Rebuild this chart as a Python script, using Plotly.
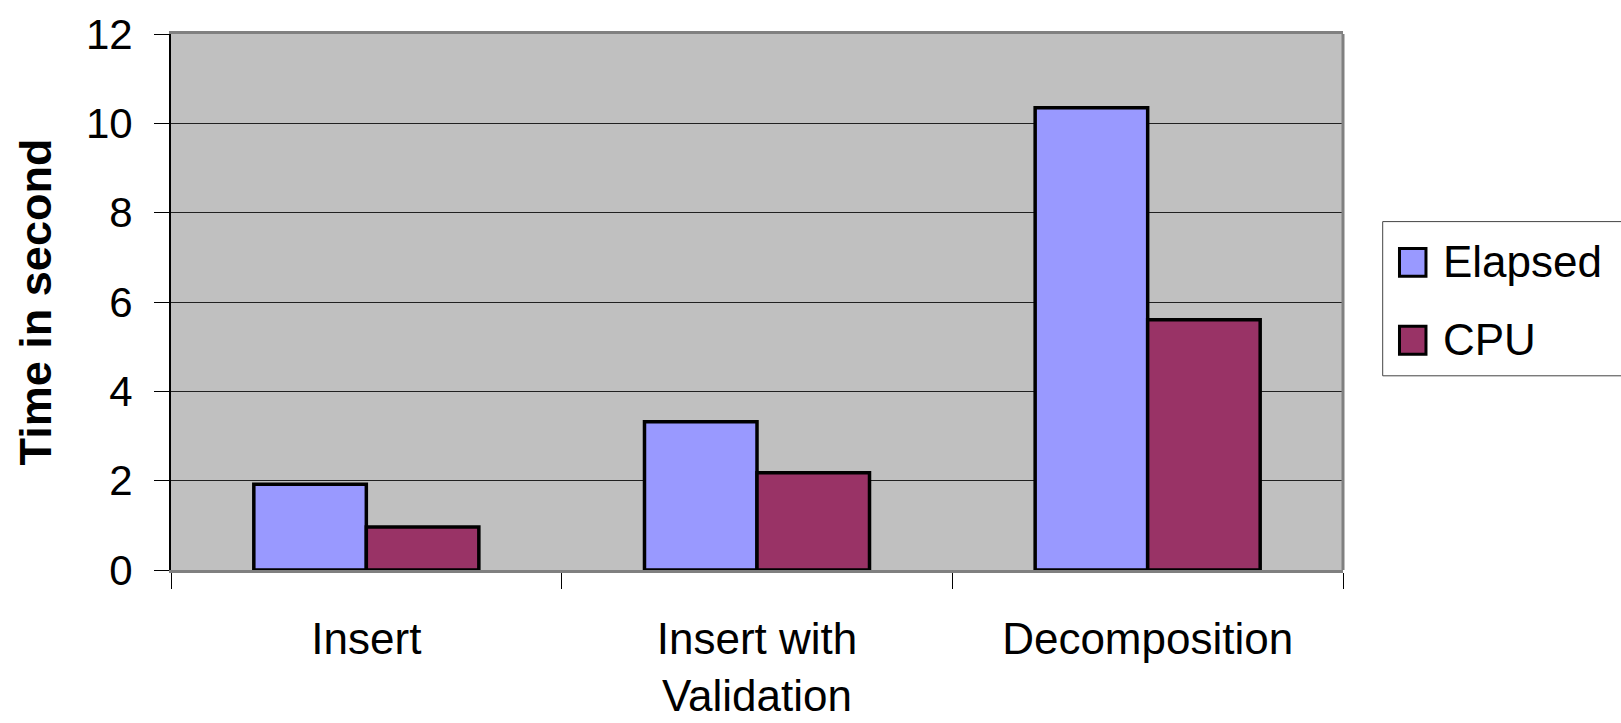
import plotly.graph_objects as go

categories = ["Insert", "Insert with<br>Validation", "Decomposition"]
elapsed = [1.92, 3.32, 10.35]
cpu = [0.96, 2.18, 5.60]
series_names = ["Elapsed", "CPU"]
series_colors = ["#9999FF", "#993366"]
y_ticks = [0, 2, 4, 6, 8, 10, 12]

W, H = 1621, 723
L, R, T, B = 170.7, 1343.0, 34.0, 570.3

FONT = "Liberation Sans, Arial, sans-serif"

fig = go.Figure()
for name, vals, col in zip(series_names, [elapsed, cpu], series_colors):
    fig.add_trace(go.Bar(
        x=categories, y=vals, name=name,
        marker=dict(color=col, line=dict(color="black", width=3.5)),
        showlegend=False,
    ))

def px2paper(px, py):
    return (px - L) / (R - L), (B - py) / (B - T)

shapes = []
annotations = []
# right border of plot area (gray)
shapes.append(dict(type="line", xref="paper", yref="paper", x0=1, x1=1, y0=0, y1=1,
                   line=dict(color="#808080", width=3), layer="above"))
# legend box
bx0, by0 = px2paper(1382.7, 221.7)
bx1, by1 = px2paper(1630, 376.0)
shapes.append(dict(type="rect", xref="paper", yref="paper", x0=bx0, x1=bx1, y0=by1, y1=by0,
                   line=dict(color="#444444", width=1), fillcolor="white", layer="above"))
item_tops = [248.5, 326.5]
for name, col, top in zip(series_names, series_colors, item_tops):
    sx0, sy0 = px2paper(1399.5, top)
    sx1, sy1 = px2paper(1426.0, top + 28)
    shapes.append(dict(type="rect", xref="paper", yref="paper", x0=sx0, x1=sx1, y0=sy1, y1=sy0,
                       line=dict(color="black", width=3), fillcolor=col, layer="above"))
    tx, ty = px2paper(1441.0, top + 13)
    annotations.append(dict(xref="paper", yref="paper", x=tx, y=ty, text=name,
                            showarrow=False, xanchor="left", yanchor="middle",
                            font=dict(family=FONT, size=44, color="black")))

fig.update_layout(
    width=W, height=H,
    margin=dict(l=L, r=W - R, t=T, b=H - B, pad=0, autoexpand=False),
    paper_bgcolor="white", plot_bgcolor="#C0C0C0",
    barmode="group", bargap=0.424, bargroupgap=0,
    font=dict(family=FONT, color="black"),
    shapes=shapes, annotations=annotations,
    showlegend=False,
)
fig.update_xaxes(
    type="category", tickson="boundaries", ticks="outside", ticklen=16,
    tickcolor="black", tickwidth=1, automargin=False,
    showline=True, linecolor="#808080", linewidth=3, mirror=True,
    showgrid=False,
    tickfont=dict(family=FONT, size=44, color="black"),
    ticklabelstandoff=28,
)
fig.update_yaxes(
    range=[0, 12], tickvals=y_ticks, ticktext=[str(v) for v in y_ticks],
    ticks="outside", ticklen=15, tickcolor="black", tickwidth=1, automargin=False,
    showline=True, linecolor="black", linewidth=2,
    showgrid=True, gridcolor="#202020", gridwidth=1, zeroline=False,
    tickfont=dict(family=FONT, size=42, color="black"),
    ticklabelstandoff=13,
    title=dict(text="<b>Time in second</b>", font=dict(family=FONT, size=45, color="black"),
               standoff=20),
)
fig.write_html("out.html", config={"displayModeBar": False},
               post_script="document.body.style.margin='0';document.body.style.overflow='hidden';")
